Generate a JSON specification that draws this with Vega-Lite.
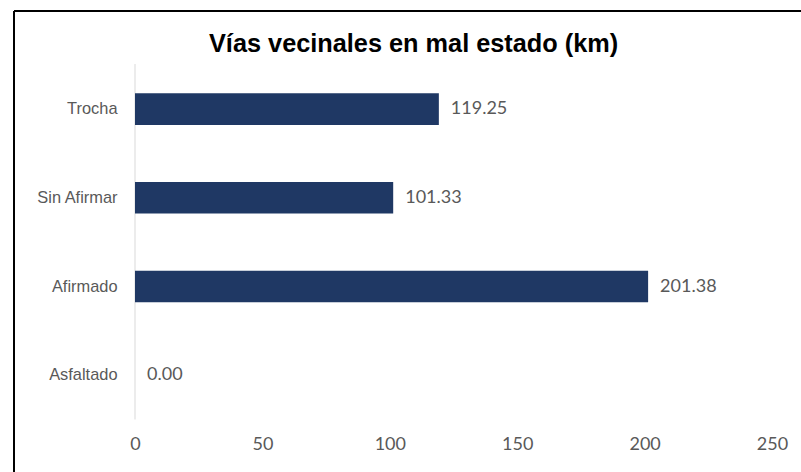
{
  "$schema": "https://vega.github.io/schema/vega-lite/v6.json",
  "autosize": "none",
  "padding": {"left": 14, "top": 11, "right": 0, "bottom": 0},
  "width": 787,
  "height": 461,
  "background": "white",
  "title": {
    "text": "Vías vecinales en mal estado (km)",
    "font": "Liberation Sans",
    "fontSize": 25.3,
    "fontWeight": "bold",
    "color": "#000000",
    "anchor": "start",
    "baseline": "alphabetic",
    "offset": -67,
    "dx": 196
  },
  "config": {
    "view": {"stroke": null},
    "axis": {"grid": false}
  },
  "data": {
    "values": [
      {"tipo": "Trocha", "km": 119.25},
      {"tipo": "Sin Afirmar", "km": 101.33},
      {"tipo": "Afirmado", "km": 201.38},
      {"tipo": "Asfaltado", "km": 0.0}
    ]
  },
  "layer": [
    {
      "transform": [{"filter": "datum.tipo == 'Trocha'"}],
      "mark": {"type": "rule", "color": "#000000", "strokeWidth": 2},
      "encoding": {
        "x": {"datum": -47.49, "type": "quantitative", "scale": {"domain": [-47.49, 261.38], "nice": false, "zero": false}}
      }
    },
    {
      "transform": [{"filter": "datum.tipo == 'Trocha'"}],
      "mark": {"type": "rule", "color": "#000000", "strokeWidth": 2},
      "encoding": {
        "y": {"datum": "Trocha", "type": "nominal", "bandPosition": -2.604, "scale": {"domain": ["Trocha", "Sin Afirmar", "Afirmado", "Asfaltado"], "paddingInner": 0.644, "paddingOuter": 0.9206, "align": 0.504}}
      }
    },
    {
      "transform": [{"filter": "datum.tipo == 'Trocha'"}],
      "mark": {"type": "rule", "color": "#D9D9D9", "strokeWidth": 1},
      "encoding": {
        "x": {"datum": 0, "type": "quantitative", "scale": {"domain": [-47.49, 261.38], "nice": false, "zero": false}},
        "y": {"datum": "Trocha", "type": "nominal", "bandPosition": -0.927, "scale": {"domain": ["Trocha", "Sin Afirmar", "Afirmado", "Asfaltado"], "paddingInner": 0.644, "paddingOuter": 0.9206, "align": 0.504}},
        "y2": {"datum": "Asfaltado", "bandPosition": 1.902}
      }
    },
    {
      "mark": {"type": "bar", "color": "#1F3864"},
      "encoding": {
        "x": {
          "field": "km", "type": "quantitative",
          "scale": {"domain": [-47.49, 261.38], "nice": false, "zero": false},
          "axis": {"values": [0, 50, 100, 150, 200, 250], "offset": -28, "domain": false, "ticks": false, "tickSize": 0, "labelPadding": 0, "labelFont": "Lato", "labelFontSize": 18, "labelColor": "#595959", "labelBaseline": "middle", "labelFlush": false, "labelOverlap": false, "title": null, "grid": false}
        },
        "x2": {"datum": 0},
        "y": {
          "field": "tipo", "type": "nominal", "sort": null,
          "scale": {"domain": ["Trocha", "Sin Afirmar", "Afirmado", "Asfaltado"], "paddingInner": 0.644, "paddingOuter": 0.9206, "align": 0.504},
          "axis": {"orient": "left", "offset": -103, "ticks": false, "tickSize": 0, "domain": false, "labelPadding": 0, "labelFont": "Liberation Sans", "labelFontSize": 16.4, "labelColor": "#595959", "labelAlign": "right", "labelBaseline": "middle", "title": null}
        }
      }
    },
    {
      "mark": {"type": "text", "align": "left", "baseline": "middle", "dx": 12, "font": "Lato", "fontSize": 18, "color": "#595959"},
      "encoding": {
        "x": {"field": "km", "type": "quantitative"},
        "y": {"field": "tipo", "type": "nominal", "sort": null},
        "text": {"field": "km", "type": "quantitative", "format": ".2f"}
      }
    }
  ]
}
